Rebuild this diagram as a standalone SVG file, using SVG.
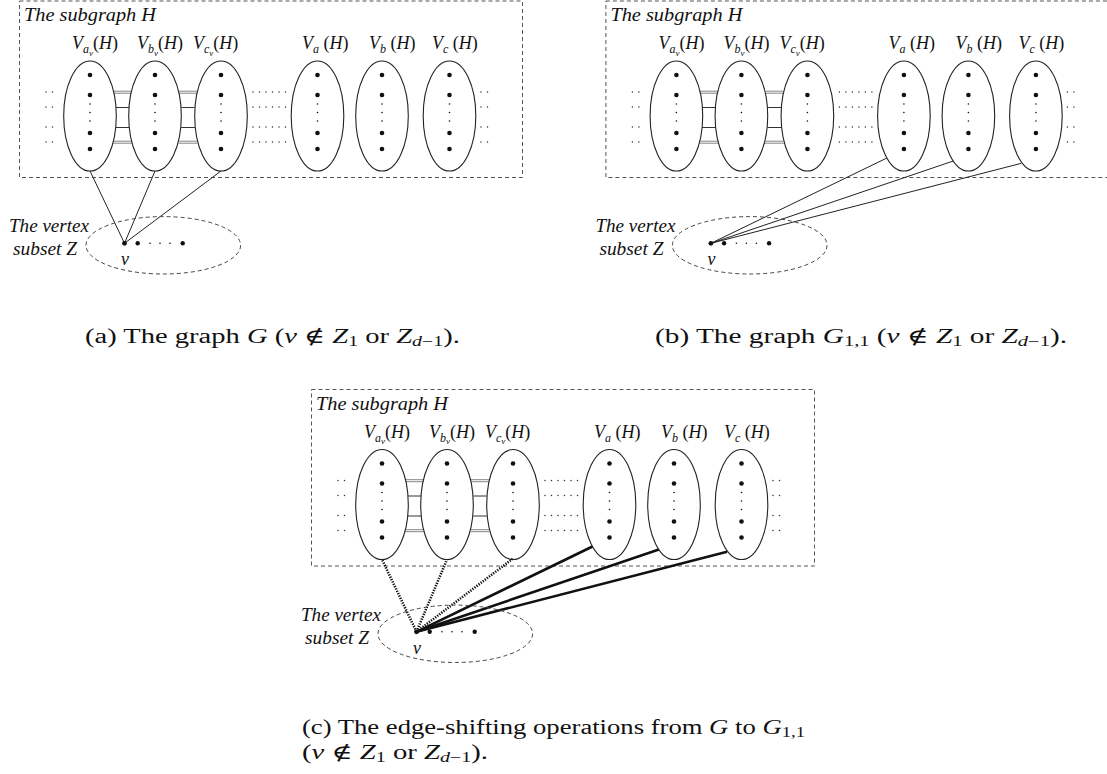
<svg xmlns="http://www.w3.org/2000/svg" xmlns:xlink="http://www.w3.org/1999/xlink" width="1107" height="774" viewBox="0 0 1107 774">
<style>
  .box{fill:none;stroke:#555;stroke-width:1;stroke-dasharray:4 3}
  .ell{fill:none;stroke:#222;stroke-width:1.1}
  .zell{fill:none;stroke:#444;stroke-width:1;stroke-dasharray:4 3}
  .it{font-family:"Liberation Serif","DejaVu Serif",serif;font-style:italic;fill:#111}
  .up{font-style:normal}
  .cap{font-family:"Liberation Serif","DejaVu Serif",serif;font-size:20px;fill:#111}
  .edge{stroke:#222;stroke-width:1;fill:none}
  .thick{stroke:#111;stroke-width:2.6;fill:none}
  .dotted{stroke:#111;stroke-width:2.6;fill:none;stroke-dasharray:1.3 1.3}
  .rung{stroke:#666;stroke-width:0.8}
  .rungd{stroke:#333;stroke-width:1}
  .dl{stroke:#333;stroke-width:1.5;stroke-linecap:round;stroke-dasharray:0 6.5;fill:none}
  .bd{fill:#111}
</style>
<defs>
  <g id="vdots">
    <circle class="bd" cx="0" cy="75" r="2.3"/>
    <circle class="bd" cx="0" cy="95" r="2.3"/>
    <circle class="bd" cx="0" cy="104" r="0.8"/>
    <circle class="bd" cx="0" cy="112.5" r="0.8"/>
    <circle class="bd" cx="0" cy="121" r="0.8"/>
    <circle class="bd" cx="0" cy="133" r="2.3"/>
    <circle class="bd" cx="0" cy="149" r="2.3"/>
  </g>
  <g id="side3">
    <line class="dl" x1="0" y1="92" x2="13" y2="92"/>
    <line class="dl" x1="0" y1="107" x2="13" y2="107"/>
    <line class="dl" x1="0" y1="127" x2="13" y2="127"/>
    <line class="dl" x1="0" y1="142" x2="13" y2="142"/>
  </g>
  <g id="side6">
    <line class="dl" x1="0" y1="92" x2="33" y2="92"/>
    <line class="dl" x1="0" y1="107" x2="33" y2="107"/>
    <line class="dl" x1="0" y1="127" x2="33" y2="127"/>
    <line class="dl" x1="0" y1="142" x2="33" y2="142"/>
  </g>
  <g id="ladder">
    <line class="rung" x1="23.5" y1="91.2" x2="41.5" y2="91.2"/>
    <line class="rung" x1="23.4" y1="93.2" x2="41.6" y2="93.2"/>
    <line class="rungd" x1="26" y1="107.5" x2="39" y2="107.5"/>
    <line class="rungd" x1="25.7" y1="127.5" x2="39.3" y2="127.5"/>
    <line class="rung" x1="23.3" y1="141.2" x2="41.7" y2="141.2"/>
    <line class="rung" x1="23" y1="143.2" x2="42" y2="143.2"/>
  </g>
  <g id="zset">
    <ellipse class="zell" cx="163.3" cy="245.3" rx="77.3" ry="28.7"/>
    <circle class="bd" cx="124.5" cy="243.3" r="2.4"/>
    <circle class="bd" cx="137.7" cy="243.3" r="2.2"/>
    <circle class="bd" cx="150" cy="243.3" r="0.8"/>
    <circle class="bd" cx="160" cy="243.3" r="0.8"/>
    <circle class="bd" cx="170" cy="243.3" r="0.8"/>
    <circle class="bd" cx="182.7" cy="243.3" r="2.2"/>
    <text class="it" x="125" y="265" font-size="18" text-anchor="middle">v</text>
    <text class="it" x="9" y="232" font-size="18" textLength="80" lengthAdjust="spacingAndGlyphs">The vertex</text>
    <text class="it" x="13" y="255" font-size="18" textLength="64" lengthAdjust="spacingAndGlyphs">subset Z</text>
  </g>
  <g id="hbox">
    <rect class="box" x="19.5" y="1" width="503" height="176.5"/>
    <text class="it" x="24" y="21" font-size="19" textLength="132" lengthAdjust="spacingAndGlyphs">The subgraph H</text>
  </g>
  <g id="labels">
    <text class="it" x="72" y="49" font-size="18">V<tspan font-size="12" dy="4">a</tspan><tspan font-size="9" dy="2.5">v</tspan><tspan class="up" dy="-6.5">(</tspan>H<tspan class="up">)</tspan></text>
    <text class="it" x="137" y="49" font-size="18">V<tspan font-size="12" dy="4">b</tspan><tspan font-size="9" dy="2.5">v</tspan><tspan class="up" dy="-6.5">(</tspan>H<tspan class="up">)</tspan></text>
    <text class="it" x="193" y="49" font-size="18">V<tspan font-size="12" dy="4">c</tspan><tspan font-size="9" dy="2.5">v</tspan><tspan class="up" dy="-6.5">(</tspan>H<tspan class="up">)</tspan></text>
    <text class="it" x="302" y="49" font-size="18">V<tspan font-size="12" dy="4">a</tspan><tspan class="up" dy="-4"> (</tspan>H<tspan class="up">)</tspan></text>
    <text class="it" x="369" y="49" font-size="18">V<tspan font-size="12" dy="4">b</tspan><tspan class="up" dy="-4"> (</tspan>H<tspan class="up">)</tspan></text>
    <text class="it" x="432" y="49" font-size="18">V<tspan font-size="12" dy="4">c</tspan><tspan class="up" dy="-4"> (</tspan>H<tspan class="up">)</tspan></text>
  </g>
</defs>

<!-- Panel (a) -->
<g id="panel-a">
  <g id="a-H"><use xlink:href="#hbox"/><use xlink:href="#labels"/></g>
  <g id="a-connectors">
    <use xlink:href="#side3" x="46"/>
    <use xlink:href="#ladder" x="90"/>
    <use xlink:href="#ladder" x="155.5"/>
    <use xlink:href="#side6" x="253"/>
    <use xlink:href="#side3" x="481"/>
    <line class="edge" x1="124.5" y1="243.3" x2="90" y2="171"/>
    <line class="edge" x1="124.5" y1="243.3" x2="155" y2="171"/>
    <line class="edge" x1="124.5" y1="243.3" x2="221" y2="171"/>
  </g>
  <g id="a-Vav"><ellipse class="ell" cx="90" cy="116" rx="26.3" ry="55"/><use xlink:href="#vdots" x="90"/></g>
  <g id="a-Vbv"><ellipse class="ell" cx="155" cy="116" rx="26.3" ry="55"/><use xlink:href="#vdots" x="155"/></g>
  <g id="a-Vcv"><ellipse class="ell" cx="221" cy="116" rx="26.3" ry="55"/><use xlink:href="#vdots" x="221"/></g>
  <g id="a-Va"><ellipse class="ell" cx="317.5" cy="116" rx="26.3" ry="55"/><use xlink:href="#vdots" x="317.5"/></g>
  <g id="a-Vb"><ellipse class="ell" cx="382" cy="116" rx="26.3" ry="55"/><use xlink:href="#vdots" x="382"/></g>
  <g id="a-Vc"><ellipse class="ell" cx="449.5" cy="116" rx="26.3" ry="55"/><use xlink:href="#vdots" x="449.5"/></g>
  <g id="a-Z"><use xlink:href="#zset"/></g>
</g>

<!-- Panel (b) -->
<g id="panel-b" transform="translate(586.4,0)">
  <g id="b-H"><use xlink:href="#hbox"/><use xlink:href="#labels"/></g>
  <g id="b-connectors">
    <use xlink:href="#side3" x="46"/>
    <use xlink:href="#ladder" x="90"/>
    <use xlink:href="#ladder" x="155.5"/>
    <use xlink:href="#side6" x="253"/>
    <use xlink:href="#side3" x="481"/>
    <line class="edge" x1="124.5" y1="243.3" x2="300.5" y2="158"/>
    <line class="edge" x1="124.5" y1="243.3" x2="366.9" y2="161"/>
    <line class="edge" x1="124.5" y1="243.3" x2="435" y2="163.3"/>
  </g>
  <g id="b-Vav"><ellipse class="ell" cx="90" cy="116" rx="26.3" ry="55"/><use xlink:href="#vdots" x="90"/></g>
  <g id="b-Vbv"><ellipse class="ell" cx="155" cy="116" rx="26.3" ry="55"/><use xlink:href="#vdots" x="155"/></g>
  <g id="b-Vcv"><ellipse class="ell" cx="221" cy="116" rx="26.3" ry="55"/><use xlink:href="#vdots" x="221"/></g>
  <g id="b-Va"><ellipse class="ell" cx="317.5" cy="116" rx="26.3" ry="55"/><use xlink:href="#vdots" x="317.5"/></g>
  <g id="b-Vb"><ellipse class="ell" cx="382" cy="116" rx="26.3" ry="55"/><use xlink:href="#vdots" x="382"/></g>
  <g id="b-Vc"><ellipse class="ell" cx="449.5" cy="116" rx="26.3" ry="55"/><use xlink:href="#vdots" x="449.5"/></g>
  <g id="b-Z"><use xlink:href="#zset"/></g>
</g>

<!-- Panel (c) -->
<g id="panel-c" transform="translate(292,388.5)">
  <g id="c-H"><use xlink:href="#hbox"/><use xlink:href="#labels"/></g>
  <g id="c-connectors">
    <use xlink:href="#side3" x="46"/>
    <use xlink:href="#ladder" x="90"/>
    <use xlink:href="#ladder" x="155.5"/>
    <use xlink:href="#side6" x="253"/>
    <use xlink:href="#side3" x="481"/>
    <line class="dotted" x1="124.5" y1="243.3" x2="90" y2="171"/>
    <line class="dotted" x1="124.5" y1="243.3" x2="155" y2="171"/>
    <line class="dotted" x1="124.5" y1="243.3" x2="221" y2="170"/>
    <line class="thick" x1="124.5" y1="243.3" x2="300.5" y2="158"/>
    <line class="thick" x1="124.5" y1="243.3" x2="366.9" y2="161"/>
    <line class="thick" x1="124.5" y1="243.3" x2="435" y2="163.3"/>
  </g>
  <g id="c-Vav"><ellipse class="ell" cx="90" cy="116" rx="26.3" ry="55"/><use xlink:href="#vdots" x="90"/></g>
  <g id="c-Vbv"><ellipse class="ell" cx="155" cy="116" rx="26.3" ry="55"/><use xlink:href="#vdots" x="155"/></g>
  <g id="c-Vcv"><ellipse class="ell" cx="221" cy="116" rx="26.3" ry="55"/><use xlink:href="#vdots" x="221"/></g>
  <g id="c-Va"><ellipse class="ell" cx="317.5" cy="116" rx="26.3" ry="55"/><use xlink:href="#vdots" x="317.5"/></g>
  <g id="c-Vb"><ellipse class="ell" cx="382" cy="116" rx="26.3" ry="55"/><use xlink:href="#vdots" x="382"/></g>
  <g id="c-Vc"><ellipse class="ell" cx="449.5" cy="116" rx="26.3" ry="55"/><use xlink:href="#vdots" x="449.5"/></g>
  <g id="c-Z"><use xlink:href="#zset"/></g>
</g>

<!-- Captions -->
<g id="captions">
  <text class="cap" x="85" y="343" textLength="375" lengthAdjust="spacingAndGlyphs">(a) The graph <tspan font-style="italic">G</tspan> (<tspan font-style="italic">v</tspan> ∉ <tspan font-style="italic">Z</tspan><tspan font-size="14" dy="3">1</tspan><tspan dy="-3"> or </tspan><tspan font-style="italic">Z</tspan><tspan font-size="14" dy="3"><tspan font-style="italic">d</tspan>−1</tspan><tspan dy="-3">).</tspan></text>
  <text class="cap" x="655" y="343" textLength="412" lengthAdjust="spacingAndGlyphs">(b) The graph <tspan font-style="italic">G</tspan><tspan font-size="14" dy="3">1,1</tspan><tspan dy="-3"> (</tspan><tspan font-style="italic">v</tspan> ∉ <tspan font-style="italic">Z</tspan><tspan font-size="14" dy="3">1</tspan><tspan dy="-3"> or </tspan><tspan font-style="italic">Z</tspan><tspan font-size="14" dy="3"><tspan font-style="italic">d</tspan>−1</tspan><tspan dy="-3">).</tspan></text>
  <text class="cap" x="302" y="734" textLength="503" lengthAdjust="spacingAndGlyphs">(c) The edge-shifting operations from <tspan font-style="italic">G</tspan> to <tspan font-style="italic">G</tspan><tspan font-size="14" dy="3">1,1</tspan></text>
  <text class="cap" x="302" y="759" textLength="186" lengthAdjust="spacingAndGlyphs">(<tspan font-style="italic">v</tspan> ∉ <tspan font-style="italic">Z</tspan><tspan font-size="14" dy="3">1</tspan><tspan dy="-3"> or </tspan><tspan font-style="italic">Z</tspan><tspan font-size="14" dy="3"><tspan font-style="italic">d</tspan>−1</tspan><tspan dy="-3">).</tspan></text>
</g>
</svg>
